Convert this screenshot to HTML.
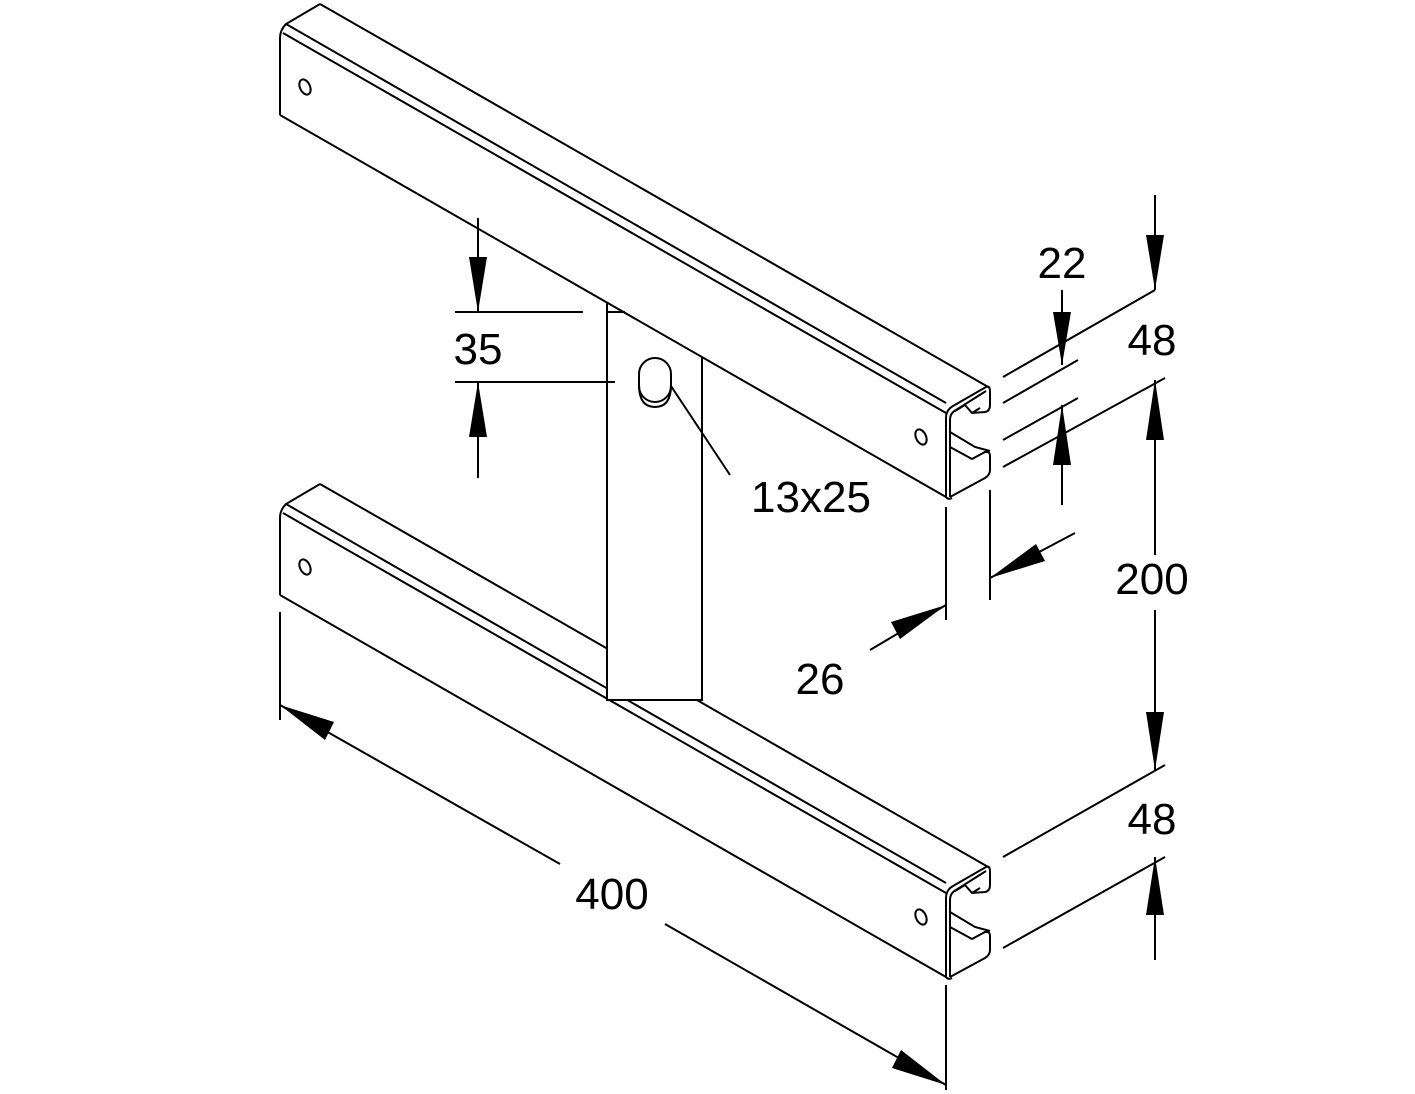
<!DOCTYPE html>
<html><head><style>
html,body{margin:0;padding:0;background:#fff;}
svg{display:block}
text{font-family:"Liberation Sans",sans-serif;font-size:44px;fill:#000;text-anchor:middle}
</style></head><body>
<svg width="1415" height="1094" viewBox="0 0 1415 1094" xmlns="http://www.w3.org/2000/svg">
<defs>
<g id="rail" fill="none" stroke="#000" stroke-width="2">
  <path d="M280,115 L280,38 Q280,30 286,24 L320,4"/>
  <path d="M286,24 L946,403"/>
  <path d="M283,33 L946,413"/>
  <path d="M320,4 L990,388"/>
  <path d="M280,115 L946,497"/>
  <ellipse cx="305" cy="87" rx="5" ry="8" transform="rotate(-25 305 87)"/>
  <ellipse cx="921" cy="437" rx="5" ry="8" transform="rotate(-25 921 437)"/>
  <path d="M946,497 L946,418 Q946,410 953,406 L986,387 Q990,385 990,392 L990,405 Q990,411 985,412 L972,413 L965,405 L955,411"/>
  <path d="M950,497 L950,420 Q950,413 956,410 L986,391"/>
  <path d="M972,413 L980,408"/>
  <path d="M950,497 L985,478 Q990,475 990,470 L990,456 Q990,451 985,452 L972,459 L950,447"/>
  <path d="M950,432 L975,447 L990,451"/>
  <path d="M946,497 Q948,500 952,498"/>
</g>
</defs>
<use href="#rail" transform="translate(0,480)"/>
<!-- plate -->
<polygon points="607,303 702,357 702,700 607,700" fill="#fff" stroke="none"/>
<g fill="none" stroke="#000" stroke-width="2">
  <path d="M607,303 L607,700 L702,700 L702,357"/>
  <path d="M607,312 L625,312"/>
  <rect x="639" y="358" width="32" height="44" rx="16" ry="16"/>
  <path d="M639,385 Q639,407 655,407 Q671,407 671,385"/>
</g>
<use href="#rail"/>
<g fill="none" stroke="#000" stroke-width="2">
  <path d="M478,218 L478,312 M478,382 L478,478"/>
  <path d="M455,312 L583,312 M455,382 L615,382"/>
  <path d="M671,386 L730,475"/>
  <path d="M1003,377 L1155,290 M1003,403 L1078,360 M1003,440 L1078,398 M1003,467 L1165,378"/>
  <path d="M1062,290 L1062,365 M1062,405 L1062,505"/>
  <path d="M1155,195 L1155,290 M1155,380 L1155,555 M1155,610 L1155,770"/>
  <path d="M1003,857 L1165,765 M1003,948 L1165,857 M1155,857 L1155,960"/>
  <path d="M946,507 L946,620 M990,490 L990,600"/>
  <path d="M990,578 L1075,533 M946,605 L870,650"/>
  <path d="M280,612 L280,720 M946,985 L946,1090"/>
  <path d="M280,705 L560,864 M665,924 L946,1085"/>
</g>
<g fill="#000" stroke="none">
  <polygon points="478,312 469,257 487,257"/>
  <polygon points="478,382 469,437 487,437"/>
  <polygon points="1062,365 1053,312 1071,312"/>
  <polygon points="1062,405 1053,465 1071,465"/>
  <polygon points="1155,290 1146,235 1164,235"/>
  <polygon points="1155,380 1146,440 1164,440"/>
  <polygon points="1155,770 1146,712 1164,712"/>
  <polygon points="1155,857 1146,915 1164,915"/>
  <polygon points="990,578 1036,544 1045,561"/>
  <polygon points="946,605 900,639 891,622"/>
  <polygon points="280,705 334,722 325,740"/>
  <polygon points="946,1085 892,1068 901,1050"/>
</g>
<text x="478" y="364">35</text>
<text x="811" y="512">13x25</text>
<text x="1062" y="278">22</text>
<text x="1152" y="355">48</text>
<text x="1152" y="594">200</text>
<text x="820" y="694">26</text>
<text x="1152" y="834">48</text>
<text x="612" y="909">400</text>
</svg>
</body></html>
